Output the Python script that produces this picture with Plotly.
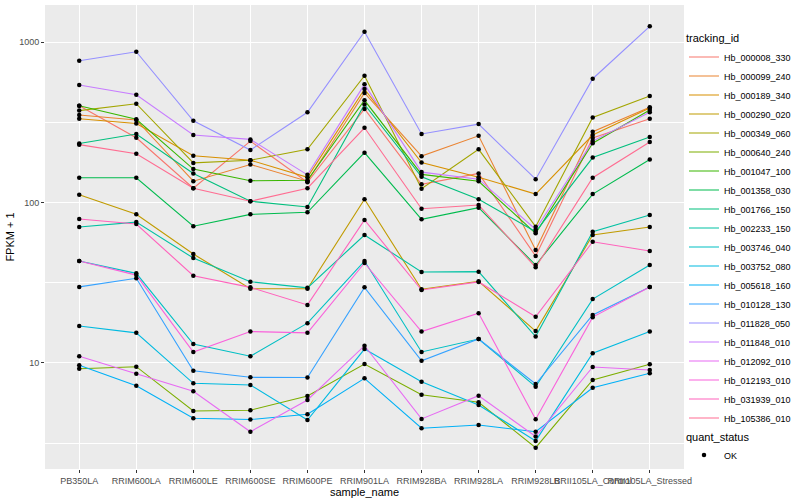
import plotly.graph_objects as go

samples = ["PB350LA", "RRIM600LA", "RRIM600LE", "RRIM600SE", "RRIM600PE", "RRIM901LA",
           "RRIM928BA", "RRIM928LA", "RRIM928LB", "RRII105LA_Control", "RRII105LA_Stressed"]

tracking_ids = ["Hb_000008_330", "Hb_000099_240", "Hb_000189_340", "Hb_000290_020", "Hb_000349_060",
                "Hb_000640_240", "Hb_001047_100", "Hb_001358_030", "Hb_001766_150", "Hb_002233_150",
                "Hb_003746_040", "Hb_003752_080", "Hb_005618_160", "Hb_010128_130", "Hb_011828_050",
                "Hb_011848_010", "Hb_012092_010", "Hb_012193_010", "Hb_031939_010", "Hb_105386_010"]

colors = ["#F8766D", "#EA8331", "#D89000", "#C09B00", "#A3A500", "#7CAE00", "#39B600", "#00BB4E",
          "#00BF7D", "#00C1A3", "#00BFC4", "#00BAE0", "#00B0F6", "#35A2FF", "#9590FF", "#C77CFF",
          "#E76BF3", "#FA62DB", "#FF62BC", "#FF6C91"]

# FPKM + 1 values, one list per tracking_id, in sample order
hb_000008_330 = [402, 254, 123, 242, 134, 384, 130, 152, 46.4, 253, 334]
hb_000099_240 = [352, 328, 136, 173, 136, 483, 195, 261, 50.6, 277, 393]
hb_000189_340 = [334, 312, 196, 184, 144, 511, 178, 144, 113, 264, 389]
hb_000290_020 = [112, 84.5, 47.8, 29, 29, 105, 28.8, 32.3, 15.8, 62.8, 70.4]
hb_000349_060 = [375, 414, 177, 184, 215, 619, 122, 215, 70.8, 340, 462]
hb_000640_240 = [9.2, 9.47, 5.01, 5.07, 6.22, 9.84, 6.33, 5.68, 2.96, 7.82, 9.8]
hb_001047_100 = [402, 331, 162, 137, 138, 435, 150, 136, 64.3, 235, 378]
hb_001358_030 = [143, 143, 71.2, 84.5, 87, 205, 78.7, 93, 40.8, 113, 186]
hb_001766_150 = [234, 268, 152, 102, 93.9, 410, 145, 105, 65.8, 191, 257]
hb_002233_150 = [70.4, 75.6, 45.1, 32.1, 29.4, 62.8, 36.9, 37.1, 14.6, 65.8, 83.7]
hb_003746_040 = [43.2, 36.2, 13.1, 11.0, 17.7, 43.2, 11.7, 14.1, 7.1, 25.0, 40.8]
hb_003752_080 = [17.0, 15.4, 7.46, 7.28, 4.4, 12.2, 7.63, 5.46, 3.26, 11.5, 15.7]
hb_005618_160 = [9.66, 7.21, 4.51, 4.43, 4.78, 8.01, 3.91, 4.1, 3.72, 7.0, 8.61]
hb_010128_130 = [29.8, 33.7, 8.94, 8.13, 8.1, 29.6, 10.3, 14.1, 7.38, 19.9, 29.8]
hb_011828_050 = [768, 874, 324, 213, 366, 1164, 268, 309, 140, 593, 1259]
hb_011848_010 = [542, 471, 264, 248, 149, 547, 155, 140, 68, 242, 366]
hb_012092_010 = [11.0, 8.56, 6.65, 3.72, 5.87, 12.8, 4.47, 6.24, 3.47, 9.43, 9.03]
hb_012193_010 = [43.2, 35.3, 11.7, 15.7, 15.4, 42.0, 15.7, 20.4, 4.45, 19.3, 29.8]
hb_031939_010 = [79, 73.5, 35, 29.6, 23, 77.9, 28.5, 32, 19.4, 57, 49.9]
hb_105386_010 = [230, 202, 123, 102, 123, 293, 91.6, 96.6, 39.5, 143, 239]

series = [hb_000008_330, hb_000099_240, hb_000189_340, hb_000290_020, hb_000349_060,
          hb_000640_240, hb_001047_100, hb_001358_030, hb_001766_150, hb_002233_150,
          hb_003746_040, hb_003752_080, hb_005618_160, hb_010128_130, hb_011828_050,
          hb_011848_010, hb_012092_010, hb_012193_010, hb_031939_010, hb_105386_010]

FONT = "Liberation Sans, Arial, Helvetica, sans-serif"

fig = go.Figure()
for name, vals, col in zip(tracking_ids, series, colors):
    fig.add_trace(go.Scatter(x=samples, y=vals, mode="lines", name=name,
                             line=dict(color=col, width=1.1), legend="legend"))

all_x = [s for _ in series for s in samples]
all_y = [v for vals in series for v in vals]
fig.add_trace(go.Scatter(x=all_x, y=all_y, mode="markers", name="OK",
                         marker=dict(color="black", size=4.5), legend="legend2"))

fig.update_layout(
    width=800, height=500,
    margin=dict(l=45, r=116, t=5, b=31, autoexpand=False),
    paper_bgcolor="white", plot_bgcolor="#EBEBEB",
    font=dict(family=FONT, color="black"),
    xaxis=dict(type="category", range=[-0.6, 10.6], tickangle=0, automargin=False,
               showgrid=True, gridcolor="white", gridwidth=1.1, zeroline=False,
               ticks="outside", ticklen=3, tickcolor="#333333", tickwidth=1,
               tickfont=dict(size=9, color="#4D4D4D"),
               title=dict(text="sample_name", font=dict(size=11), standoff=0)),
    yaxis=dict(type="log", range=[0.338, 3.233], automargin=False,
               tickvals=[10, 100, 1000], ticktext=["10", "100", "1000"],
               showgrid=True, gridcolor="white", gridwidth=1.1, zeroline=False,
               ticks="outside", ticklen=3, tickcolor="#333333", tickwidth=1,
               tickfont=dict(size=9, color="#4D4D4D"),
               minor=dict(tickvals=[10 ** 0.5, 10 ** 1.5, 10 ** 2.5], showgrid=True,
                          gridcolor="white", gridwidth=0.5, ticks=""),
               title=dict(text="FPKM + 1", font=dict(size=11), standoff=2)),
    legend=dict(title=dict(text="tracking_id", font=dict(size=11)),
                x=1.0, y=0.950, xanchor="left", yanchor="top",
                font=dict(size=9), itemwidth=30, tracegroupgap=0,
                bgcolor="rgba(0,0,0,0)"),
    legend2=dict(title=dict(text="quant_status", font=dict(size=11)),
                 x=1.0, y=0.092, xanchor="left", yanchor="top",
                 font=dict(size=9), itemwidth=30, bgcolor="rgba(0,0,0,0)"),
)

fig.write_html("out.html", config={"displayModeBar": False},
               post_script="document.body.style.margin='0';document.body.style.padding='0';")
